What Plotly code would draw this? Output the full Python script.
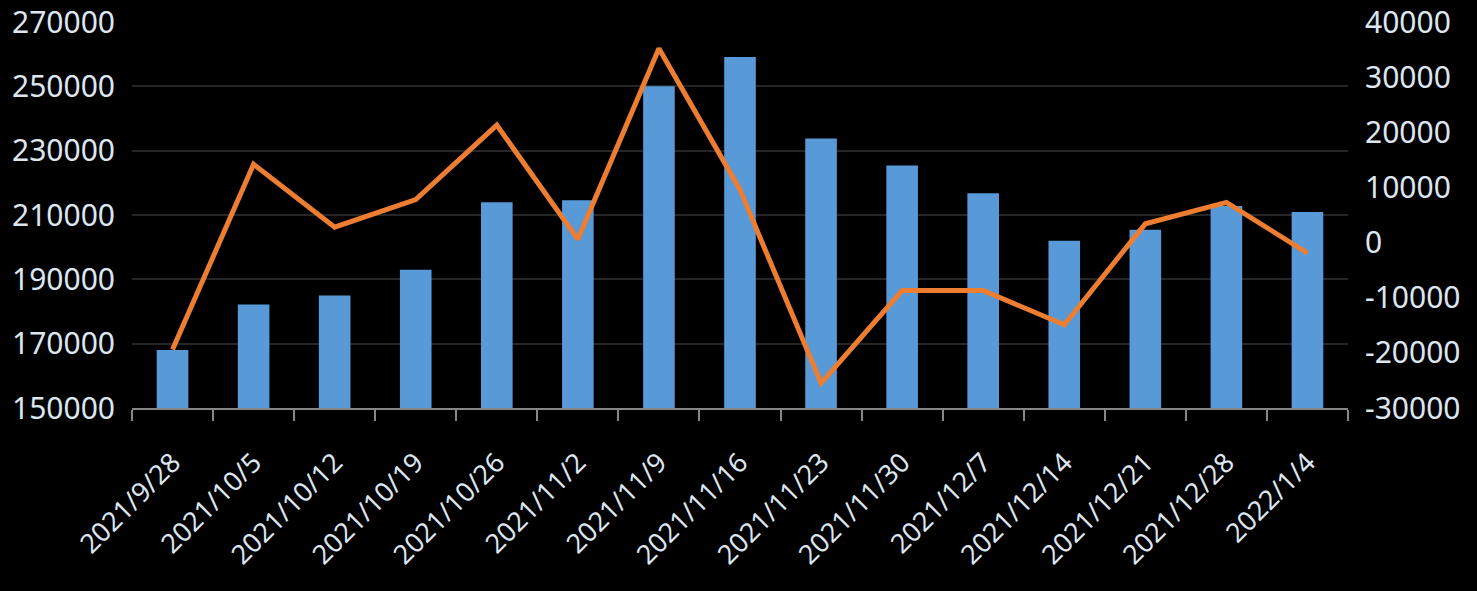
import plotly.graph_objects as go

dates = ["2021/9/28", "2021/10/5", "2021/10/12", "2021/10/19", "2021/10/26",
         "2021/11/2", "2021/11/9", "2021/11/16", "2021/11/23", "2021/11/30",
         "2021/12/7", "2021/12/14", "2021/12/21", "2021/12/28", "2022/1/4"]
bar_values = [168000, 182200, 185000, 193000, 214000,
              214600, 250000, 259100, 233800, 225400,
              216800, 202000, 205400, 212800, 210900]
line_values = [-19400, 14200, 2800, 7800, 21300,
               600, 35200, 9600, -25500, -8700,
               -8700, -14900, 3400, 7300, -1900]

left_ticks = [150000, 170000, 190000, 210000, 230000, 250000, 270000]
right_ticks = [-30000, -20000, -10000, 0, 10000, 20000, 30000, 40000]

FONT = "Noto Sans"
TXT = "#dde6f0"

fig = go.Figure()
fig.add_trace(go.Bar(
    x=dates, y=bar_values, marker=dict(color="#5899d8", line=dict(width=0)),
    yaxis="y", showlegend=False,
))
fig.add_trace(go.Scatter(
    x=dates, y=line_values, mode="lines",
    line=dict(color="#ed7d31", width=5), yaxis="y2", showlegend=False,
))

fig.update_layout(
    width=1477, height=591,
    paper_bgcolor="black", plot_bgcolor="black",
    margin=dict(l=132, r=129, t=22, b=183),
    bargap=0.61,
    font=dict(family=FONT, color=TXT, size=29),
    xaxis=dict(
        type="category", tickangle=-45, tickfont=dict(size=27, color=TXT),
        showgrid=False, showline=True, linecolor="#868686", linewidth=2,
        ticks="outside", tickson="boundaries", ticklen=11, tickcolor="#868686",
        tickwidth=2, zeroline=False, automargin=False,
        ticklabelstandoff=26,
    ),
    yaxis=dict(
        range=[150000, 270000], tickvals=left_ticks,
        ticktext=[str(v) for v in left_ticks],
        showgrid=True, gridcolor="#262626", gridwidth=2, zeroline=False,
        showline=False, ticks="", ticklabelstandoff=16, automargin=False,
        tickfont=dict(size=30, color=TXT),
    ),
    yaxis2=dict(
        range=[-30000, 40000], tickvals=right_ticks,
        ticktext=[str(v) for v in right_ticks],
        overlaying="y", side="right", showgrid=False, zeroline=False,
        showline=False, ticks="", ticklabelstandoff=16, automargin=False,
        tickfont=dict(size=30, color=TXT),
    ),
)

fig.write_html("out.html")
